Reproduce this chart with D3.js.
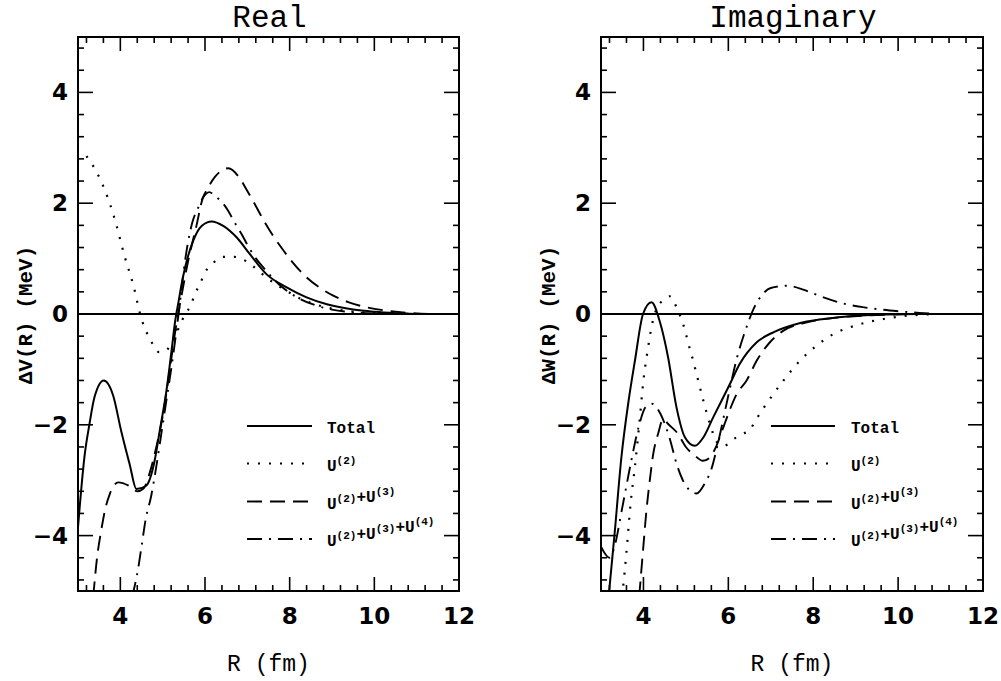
<!DOCTYPE html>
<html><head><meta charset="utf-8">
<script src="https://cdn.jsdelivr.net/npm/d3@7"></script>
<style>body{margin:0;background:#fff}svg{display:block}</style>
</head><body>
<svg id="chart" width="1001" height="681"></svg>
<script>
// ---------- data ----------
const panelTitles = ["Real", "Imaginary"];
const yLabels = ["\u0394V(R) (MeV)", "\u0394W(R) (MeV)"];
const xLabel = "R (fm)";
const xTickLabels = [4, 6, 8, 10, 12];
const yTickLabels = [-4, -2, 0, 2, 4];
const seriesNames = ["Total", "U(2)", "U(2)+U(3)", "U(2)+U(3)+U(4)"];

// Real part  [R (fm), dV (MeV)]
const realTotal = [[3.0,-3.85],[3.16,-2.53],[3.27,-1.99],[3.39,-1.5],[3.61,-1.2],[3.83,-1.47],[4.02,-2.11],[4.22,-2.71],[4.38,-3.16],[4.61,-3.1],[4.81,-2.65],[4.93,-2.11],[5.09,-1.38],[5.21,-0.66],[5.3,-0.1],[5.37,0.2],[5.45,0.55],[5.53,0.84],[5.72,1.32],[5.92,1.59],[6.16,1.67],[6.43,1.59],[6.75,1.38],[7.06,1.08],[7.45,0.72],[7.93,0.48],[8.4,0.3],[8.9,0.17],[9.5,0.08],[10.0,0.04],[10.5,0.015],[11.0,0],[12.0,0]];
const realU2 = [[3.2,2.85],[3.52,2.44],[3.83,1.81],[4.11,1.02],[4.31,0.51],[4.5,-0.09],[4.62,-0.33],[4.74,-0.51],[4.92,-0.69],[5.08,-0.66],[5.25,-0.45],[5.4,-0.22],[5.53,0.0],[5.66,0.15],[5.76,0.36],[5.88,0.54],[6.0,0.75],[6.18,0.91],[6.43,1.03],[6.7,1.03],[6.98,0.95],[7.22,0.81],[7.45,0.66],[7.92,0.42],[8.3,0.26],[8.71,0.15],[9.3,0.06],[10.0,0.02],[11.0,0],[12.0,0]];
const realU23 = [[3.36,-5.1],[3.45,-4.4],[3.55,-3.9],[3.65,-3.5],[3.75,-3.25],[3.95,-3.04],[4.2,-3.1],[4.4,-3.2],[4.55,-3.15],[4.7,-2.85],[4.85,-2.4],[5.0,-1.85],[5.15,-1.1],[5.3,-0.3],[5.45,0.35],[5.6,0.95],[5.8,1.6],[5.95,2.1],[6.05,2.25],[6.23,2.47],[6.55,2.63],[6.82,2.45],[7.0,2.22],[7.2,1.95],[7.4,1.67],[7.6,1.42],[7.85,1.15],[8.05,0.95],[8.4,0.66],[8.7,0.48],[9.03,0.33],[9.4,0.21],[9.82,0.12],[10.3,0.06],[10.8,0.02],[11.5,0],[12.0,0]];
const realU234 = [[4.28,-5.1],[4.42,-4.6],[4.5,-4.2],[4.6,-3.7],[4.73,-3.28],[4.85,-2.75],[5.0,-2.0],[5.1,-1.5],[5.2,-1.0],[5.3,-0.45],[5.4,0.15],[5.5,0.8],[5.6,1.3],[5.7,1.65],[5.84,1.92],[6.0,2.15],[6.1,2.2],[6.25,2.12],[6.4,2.02],[6.55,1.86],[6.7,1.65],[6.86,1.45],[7.0,1.25],[7.15,1.06],[7.4,0.82],[7.8,0.5],[8.2,0.29],[8.6,0.16],[9.0,0.08],[9.5,0.03],[10.0,0.01],[11.0,0],[12.0,0]];

// Imaginary part  [R (fm), dW (MeV)]
const imagTotal = [[3.18,-5.1],[3.32,-3.97],[3.48,-2.59],[3.64,-1.62],[3.8,-0.84],[3.99,0.0],[4.19,0.21],[4.39,-0.15],[4.58,-0.78],[4.78,-1.69],[4.98,-2.23],[5.21,-2.38],[5.41,-2.23],[5.64,-1.87],[6.04,-1.26],[6.27,-0.9],[6.67,-0.51],[7.06,-0.33],[7.61,-0.18],[8.24,-0.09],[9.03,-0.03],[10.0,-0.005],[11.0,0],[12.0,0]];
const imagU2 = [[3.5,-5.1],[3.6,-4.3],[3.7,-3.4],[3.8,-2.75],[3.9,-2.0],[4.0,-1.2],[4.1,-0.65],[4.2,-0.2],[4.3,0.08],[4.45,0.24],[4.62,0.32],[4.78,0.12],[4.98,-0.3],[5.05,-0.51],[5.17,-0.84],[5.27,-1.14],[5.41,-1.56],[5.57,-1.99],[5.72,-2.3],[5.9,-2.38],[6.12,-2.26],[6.3,-2.18],[6.51,-2.08],[6.7,-1.85],[6.9,-1.62],[7.3,-1.2],[7.69,-0.84],[8.08,-0.57],[8.48,-0.36],[8.87,-0.24],[9.27,-0.15],[9.66,-0.09],[10.1,-0.04],[10.6,-0.01],[11.0,0],[12.0,0]];
const imagU23 = [[3.9,-5.1],[3.99,-4.27],[4.07,-3.55],[4.15,-3.0],[4.23,-2.53],[4.35,-2.15],[4.46,-1.9],[4.6,-2.0],[4.8,-2.15],[5.0,-2.4],[5.2,-2.55],[5.4,-2.65],[5.55,-2.6],[5.72,-2.38],[5.88,-2.05],[6.04,-1.72],[6.2,-1.44],[6.43,-1.2],[6.67,-0.84],[6.98,-0.51],[7.3,-0.3],[7.85,-0.15],[8.5,-0.07],[9.5,-0.02],[10.5,0],[12.0,0]];
const imagU234 = [[3.0,-4.2],[3.2,-4.4],[3.3,-4.25],[3.5,-3.5],[3.7,-2.7],[3.9,-2.0],[4.05,-1.68],[4.2,-1.62],[4.4,-1.8],[4.6,-2.2],[4.8,-2.75],[5.0,-3.1],[5.25,-3.24],[5.45,-3.05],[5.6,-2.8],[5.75,-2.35],[6.0,-1.47],[6.2,-0.8],[6.4,-0.3],[6.6,0.1],[6.8,0.35],[7.0,0.47],[7.4,0.51],[7.8,0.43],[8.2,0.31],[8.7,0.19],[9.2,0.12],[9.6,0.08],[10.0,0.05],[10.5,0.02],[11.0,0],[12.0,0]];

const panelSeries = [[realTotal, realU2, realU23, realU234], [imagTotal, imagU2, imagU23, imagU234]];

// ---------- layout ----------
const svg = d3.select("#chart");
const panels = [{x0: 78, x1: 459}, {x0: 601, x1: 983}];
const yTop = 37, yBot = 591;
const styles = [
  {dash: null, w: 2},
  {dash: "2,9", w: 2.2},
  {dash: "15,8", w: 1.9},
  {dash: "15,7,2,7", w: 1.9}
];
const monoFont = "'Liberation Mono', 'DejaVu Sans Mono', monospace";
const tickFont = "'DejaVu Sans', 'Liberation Sans', sans-serif";

panels.forEach((p, pi) => {
  const x = d3.scaleLinear().domain([3, 12]).range([p.x0, p.x1]);
  const y = d3.scaleLinear().domain([-5, 5]).range([yBot, yTop]);
  const g = svg.append("g");

  const clipId = "clip" + pi;
  svg.append("clipPath").attr("id", clipId).append("rect")
    .attr("x", p.x0).attr("y", yTop).attr("width", p.x1 - p.x0).attr("height", yBot - yTop);

  // ticks (inward, all four sides)
  const majX = d3.range(4, 12, 2);
  const minX = d3.range(3.2, 12, 0.4).filter(v => Math.abs((v - 4) / 2 - Math.round((v - 4) / 2)) > 1e-6);
  const majY = d3.range(-4, 5, 2);
  const minY = d3.range(-4.8, 5, 0.4).filter(v => Math.abs(v / 2 - Math.round(v / 2)) > 1e-6 && Math.abs(v) < 4.99);
  const tk = g.append("g").attr("stroke", "#000").attr("stroke-width", 1.6);
  majX.forEach(v => {
    tk.append("line").attr("x1", x(v)).attr("x2", x(v)).attr("y1", yBot).attr("y2", yBot - 14);
    tk.append("line").attr("x1", x(v)).attr("x2", x(v)).attr("y1", yTop).attr("y2", yTop + 14);
  });
  minX.forEach(v => {
    tk.append("line").attr("x1", x(v)).attr("x2", x(v)).attr("y1", yBot).attr("y2", yBot - 6);
    tk.append("line").attr("x1", x(v)).attr("x2", x(v)).attr("y1", yTop).attr("y2", yTop + 6);
  });
  majY.forEach(v => {
    tk.append("line").attr("x1", p.x0).attr("x2", p.x0 + 15).attr("y1", y(v)).attr("y2", y(v));
    tk.append("line").attr("x1", p.x1).attr("x2", p.x1 - 15).attr("y1", y(v)).attr("y2", y(v));
  });
  minY.forEach(v => {
    tk.append("line").attr("x1", p.x0).attr("x2", p.x0 + 6).attr("y1", y(v)).attr("y2", y(v));
    tk.append("line").attr("x1", p.x1).attr("x2", p.x1 - 6).attr("y1", y(v)).attr("y2", y(v));
  });

  // zero line
  g.append("line").attr("x1", p.x0).attr("x2", p.x1).attr("y1", y(0)).attr("y2", y(0))
    .attr("stroke", "#000").attr("stroke-width", 2);

  // curves
  const line = d3.line().x(d => x(d[0])).y(d => y(d[1])).curve(d3.curveMonotoneX);
  const cg = g.append("g").attr("clip-path", `url(#${clipId})`);
  panelSeries[pi].forEach((data, si) => {
    cg.append("path").attr("d", line(data)).attr("fill", "none").attr("stroke", "#000")
      .attr("stroke-width", styles[si].w)
      .attr("stroke-dasharray", styles[si].dash)
      .attr("stroke-linejoin", "round");
  });

  // frame
  g.append("rect").attr("x", p.x0).attr("y", yTop).attr("width", p.x1 - p.x0).attr("height", yBot - yTop)
    .attr("fill", "none").attr("stroke", "#000").attr("stroke-width", 2);

  // tick labels
  xTickLabels.forEach(v => {
    g.append("text").attr("x", x(v)).attr("y", 624).attr("text-anchor", "middle")
      .attr("font-family", tickFont).attr("font-size", 23).attr("font-weight", "bold")
      .text(v);
  });
  yTickLabels.forEach(v => {
    g.append("text").attr("x", p.x0 - 10).attr("y", y(v) + 8).attr("text-anchor", "end")
      .attr("font-family", tickFont).attr("font-size", 23).attr("font-weight", "bold")
      .text(v < 0 ? "\u2212" + Math.abs(v) : v);
  });

  // titles and axis labels
  const cx = (p.x0 + p.x1) / 2;
  g.append("text").attr("x", cx + 1).attr("y", 27).attr("text-anchor", "middle")
    .attr("font-family", monoFont).attr("font-size", 31).text(panelTitles[pi]);
  g.append("text").attr("x", cx).attr("y", 671).attr("text-anchor", "middle")
    .attr("font-family", monoFont).attr("font-size", 23).text(xLabel);
  const ylx = p.x0 - 46;
  g.append("text").attr("transform", `translate(${ylx},315) rotate(-90)`)
    .attr("text-anchor", "middle").attr("font-family", monoFont).attr("font-size", 21)
    .attr("font-weight", "bold").text(yLabels[pi]);

  // legend
  const lx0 = pi === 0 ? 247 : 771, lx1 = pi === 0 ? 312 : 835, tx = pi === 0 ? 327 : 851;
  const rows = [426, 463.5, 501.5, 539];
  seriesNames.forEach((name, si) => {
    g.append("line").attr("x1", lx0).attr("x2", lx1).attr("y1", rows[si]).attr("y2", rows[si])
      .attr("stroke", "#000").attr("stroke-width", styles[si].w).attr("stroke-dasharray", styles[si].dash);
    const t = g.append("text").attr("x", tx).attr("y", rows[si] + 7)
      .attr("font-family", monoFont).attr("font-weight", "bold").attr("font-size", 16);
    const parts = name.match(/U\(\d\)|\+|[^U+]+/g);
    parts.forEach(part => {
      const m = part.match(/^U\((\d)\)$/);
      if (m) {
        t.append("tspan").attr("dy", 0).attr("font-size", 16).text("U");
        t.append("tspan").attr("dy", -7).attr("font-size", 11).text("(" + m[1] + ")");
        t.append("tspan").attr("dy", 7).attr("font-size", 16).text("");
      } else {
        t.append("tspan").attr("font-size", 16).text(part);
      }
    });
  });
});
</script>
</body></html>
